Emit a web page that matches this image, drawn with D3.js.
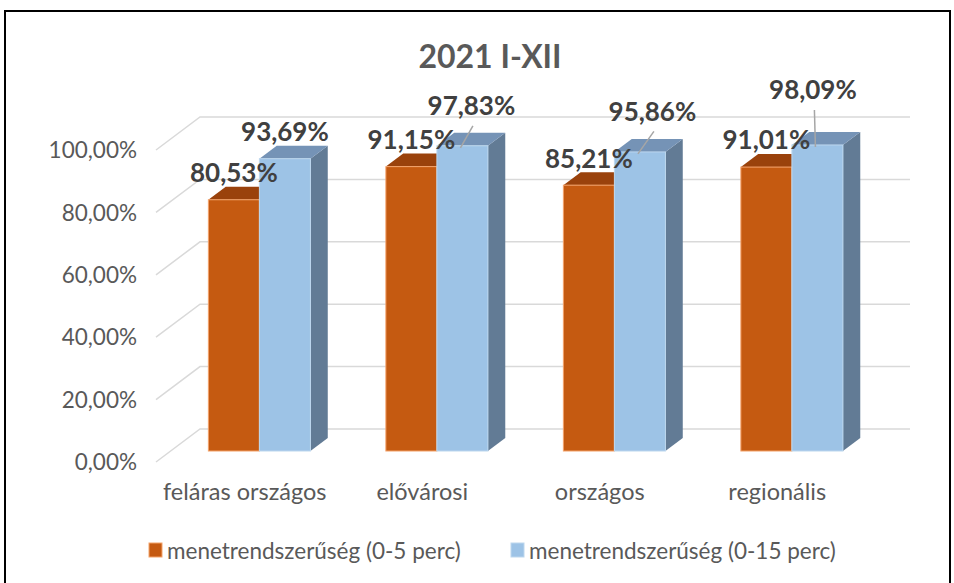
<!DOCTYPE html>
<html>
<head>
<meta charset="utf-8">
<script src="https://cdn.jsdelivr.net/npm/d3@7"></script>
<style>
  html, body { margin: 0; padding: 0; background: #fff; }
  svg { display: block; }
  text { font-family: Lato, "Noto Sans", sans-serif; }
</style>
</head>
<body>
<svg id="chart" width="954" height="583"></svg>
<script>
// ---- data ----
const title = "2021 I-XII";
const categories = ["feláras országos", "elővárosi", "országos", "regionális"];
const seriesNames = ["menetrendszerűség (0-5 perc)", "menetrendszerűség (0-15 perc)"];
const series0_5 = [80.53, 91.15, 85.21, 91.01];
const series0_15 = [93.69, 97.83, 95.86, 98.09];
const yTicks = [0, 20, 40, 60, 80, 100];

// ---- layout / style ----
const W = 954, H = 583;
const wall = { left: 200, right: 910, top: 117, bottom: 429 };
const floorDx = -44, floorDy = 33;         // back wall -> front edge of floor
const barFrontZ = 0.667, barBackZ = 0.273;  // bar depth as fraction of floor depth
const colors = [
  { front: "#C55A11", top: "#9A420C", side: "#8A3B0B", edge: "#F4A36B" },
  { front: "#9DC3E6", top: "#7593B6", side: "#627B95", edge: "#BDD7EE" }
];
// manual label nudges (dx, dy) for labels that were moved with leader lines
const labelNudge = [
  [[0,0],[0,0],[0,0],[0,0]],
  [[0,0],[9,-13],[12.5,-13.5],[-4.5,-28]]
];

const svg = d3.select("#chart");
svg.append("rect").attr("x", 0).attr("y", 0).attr("width", W).attr("height", H).attr("fill", "#fff");
svg.append("rect").attr("x", 5).attr("y", 11).attr("width", 945).attr("height", 600)
  .attr("fill", "none").attr("stroke", "#000").attr("stroke-width", 2);

const x = d3.scaleBand().domain(categories).range([wall.left, wall.right])
  .paddingInner(0.425).paddingOuter(0.2125);
const xs = d3.scaleBand().domain(seriesNames).range([0, x.bandwidth()]);
const y = d3.scaleLinear().domain([0, 100]).range([wall.bottom, wall.top]);

// title
svg.append("text").attr("x", 490).attr("y", 56).attr("dy", "0.36em")
  .attr("text-anchor", "middle").attr("font-size", 32).attr("font-weight", 700)
  .attr("fill", "#595959").text(title);

// gridlines (back wall + left side wall diagonal)
const grid = svg.append("g").attr("stroke", "#D9D9D9").attr("stroke-width", 1.5).attr("fill", "none");
yTicks.forEach(t => {
  const yy = y(t);
  grid.append("path").attr("d",
    `M${wall.left + floorDx},${yy + floorDy}L${wall.left},${yy}L${wall.right},${yy}`);
});

// y tick labels
svg.append("g").selectAll("text").data(yTicks).join("text")
  .attr("x", 137).attr("y", d => y(d) + floorDy).attr("dy", "0.36em")
  .attr("text-anchor", "end").attr("font-size", 22.5).attr("fill", "#595959")
  .text(d => d3.format(".2f")(d).replace(".", ",") + "%");

// category labels
svg.append("g").selectAll("text").data(categories).join("text")
  .attr("x", d => x(d) + x.bandwidth() / 2 + floorDx).attr("y", 492).attr("dy", "0.36em")
  .attr("text-anchor", "middle").attr("font-size", 23.5).attr("fill", "#595959")
  .text(d => d);

// bars
const seriesData = [series0_5, series0_15];
const fdx = floorDx * barFrontZ, fdy = floorDy * barFrontZ;
const bdx = floorDx * barBackZ, bdy = floorDy * barBackZ;
const bars = svg.append("g");
const labels = [];
categories.forEach((c, ci) => {
  seriesData.forEach((vals, si) => {
    const v = vals[ci];
    const col = colors[si];
    const x0 = x(c) + xs(seriesNames[si]);
    const x1 = x0 + xs.bandwidth();
    const yT = y(v), yB = y(0);
    const F = (xx, yy) => [xx + fdx, yy + fdy];
    const B = (xx, yy) => [xx + bdx, yy + bdy];
    const poly = pts => "M" + pts.map(p => p.join(",")).join("L") + "Z";
    bars.append("path").attr("d", poly([F(x1, yT), B(x1, yT), B(x1, yB), F(x1, yB)]))
      .attr("fill", col.side);
    bars.append("path").attr("d", poly([F(x0, yT), F(x1, yT), B(x1, yT), B(x0, yT)]))
      .attr("fill", col.top);
    const [fx0, fy0] = F(x0, yT);
    const [fx1, fy1] = F(x1, yB);
    bars.append("rect").attr("x", fx0).attr("y", fy0).attr("width", fx1 - fx0).attr("height", fy1 - fy0)
      .attr("fill", col.front).attr("stroke", col.edge).attr("stroke-width", 1);
    const cx = (fx0 + fx1) / 2;
    const nudge = labelNudge[si][ci];
    labels.push({ v, cx, top: fy0, lx: cx + nudge[0], ly: fy0 - 27 + nudge[1], moved: nudge[0] !== 0 || nudge[1] !== 0 });
  });
});

// leader lines
svg.append("g").selectAll("line").data(labels.filter(d => d.moved)).join("line")
  .attr("x1", d => d.lx + 1.5).attr("y1", d => d.ly + 20)
  .attr("x2", d => d.cx - 2).attr("y2", d => d.top + 2)
  .attr("stroke", "#A6A6A6").attr("stroke-width", 1.5);

// data labels
svg.append("g").selectAll("text").data(labels).join("text")
  .attr("x", d => d.lx).attr("y", d => d.ly).attr("dy", "0.36em")
  .attr("text-anchor", "middle").attr("font-size", 26).attr("font-weight", 700)
  .attr("fill", "#404040")
  .text(d => d3.format(".2f")(d.v).replace(".", ",") + "%");

// legend
const legend = svg.append("g");
const legendX = [149, 511];
seriesNames.forEach((s, i) => {
  legend.append("rect").attr("x", legendX[i]).attr("y", 543).attr("width", 13).attr("height", 14)
    .attr("fill", colors[i].front).attr("stroke", colors[i].edge).attr("stroke-width", 1);
  legend.append("text").attr("x", legendX[i] + 18).attr("y", 551).attr("dy", "0.36em")
    .attr("font-size", 22.5).attr("fill", "#595959").text(s);
});
</script>
</body>
</html>
